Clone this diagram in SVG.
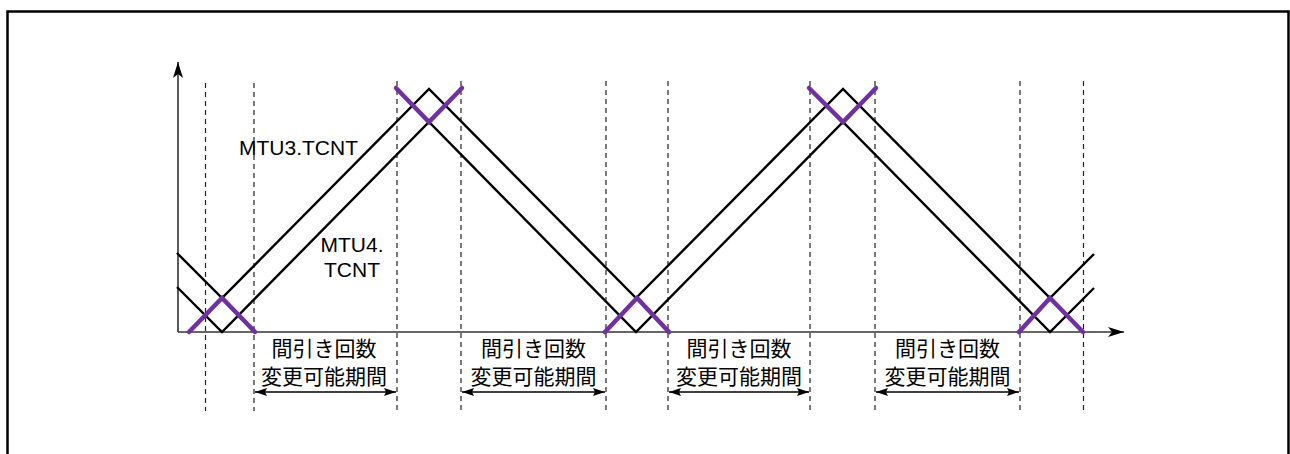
<svg xmlns="http://www.w3.org/2000/svg" width="1290" height="454" viewBox="0 0 1290 454">
<defs>
<style>
.frame{fill:none;stroke:#000;stroke-width:2.5}
.axis{fill:none;stroke:#333;stroke-width:1.6}
.dash{fill:none;stroke:#222;stroke-width:1.2;stroke-dasharray:5 4}
.wave{fill:none;stroke:#000;stroke-width:2.4;stroke-linejoin:miter}
.purple{fill:none;stroke:#7030a0;stroke-width:4.5;stroke-linecap:round;stroke-linejoin:miter}
.dim{fill:none;stroke:#000;stroke-width:1.4}
.lat{font-family:"Liberation Sans",Arial,sans-serif;font-size:21px;fill:#000}
.jp{font-family:"Noto Sans CJK JP","Noto Sans CJK SC",sans-serif;font-size:21px;fill:#000;text-anchor:middle}
</style>
<marker id="axhead" viewBox="0 0 16 10" refX="16" refY="5" markerWidth="16" markerHeight="10" markerUnits="userSpaceOnUse" orient="auto">
<path d="M0,0 L16,5 L0,10 L4,5 Z" fill="#000"/>
</marker>
<marker id="dimhead" viewBox="0 0 12 8" refX="12" refY="4" markerWidth="12" markerHeight="8" markerUnits="userSpaceOnUse" orient="auto-start-reverse">
<path d="M0,0 L12,4 L0,8 L2,4 Z" fill="#000"/>
</marker>
</defs>
<rect width="1290" height="454" fill="#fff"/>
<path class="frame" d="M7.5,454 V11.5 H1288.5 V454"/>
<g id="connectors">
<g id="axes">
<line class="axis" x1="178" y1="332" x2="178" y2="62" marker-end="url(#axhead)"/>
<line class="axis" x1="178" y1="332" x2="1124" y2="332" marker-end="url(#axhead)"/>
</g>
<g id="dashed">
<line class="dash" x1="205.5" y1="83" x2="205.5" y2="411"/>
<line class="dash" x1="254" y1="83" x2="254" y2="411"/>
<line class="dash" x1="397" y1="81" x2="397" y2="411"/>
<line class="dash" x1="461" y1="81" x2="461" y2="411"/>
<line class="dash" x1="606" y1="81" x2="606" y2="411"/>
<line class="dash" x1="668" y1="81" x2="668" y2="411"/>
<line class="dash" x1="810" y1="81" x2="810" y2="411"/>
<line class="dash" x1="875" y1="81" x2="875" y2="411"/>
<line class="dash" x1="1020" y1="81" x2="1020" y2="411"/>
<line class="dash" x1="1083.5" y1="81" x2="1083.5" y2="411"/>
</g>
<g id="dims">
<line class="dim" x1="255" y1="392" x2="396" y2="392" marker-start="url(#dimhead)" marker-end="url(#dimhead)"/>
<line class="dim" x1="462" y1="392" x2="605" y2="392" marker-start="url(#dimhead)" marker-end="url(#dimhead)"/>
<line class="dim" x1="669" y1="392" x2="809" y2="392" marker-start="url(#dimhead)" marker-end="url(#dimhead)"/>
<line class="dim" x1="876" y1="392" x2="1019" y2="392" marker-start="url(#dimhead)" marker-end="url(#dimhead)"/>
</g>
</g>
<g id="mtu3">
<polyline class="wave" points="177,253 222,298 429,89 636,298 843,89 1050,298 1094,254"/>
<text class="lat" x="239" y="155">MTU3.TCNT</text>
</g>
<g id="mtu4">
<polyline class="wave" points="177,287 222,332 429,122 636,332 843,122 1050,332 1094,288"/>
<text class="lat" x="352" y="252" text-anchor="middle">MTU4.</text>
<text class="lat" x="352" y="277" text-anchor="middle">TCNT</text>
</g>
<g id="purple-marks">
<polyline class="purple" points="189,332 222,298 255,332"/>
<polyline class="purple" points="396,88 429,122 462,88"/>
<polyline class="purple" points="605,332 637,298 669,332"/>
<polyline class="purple" points="809,88 843,122 876,88"/>
<polyline class="purple" points="1019,332 1050,298 1083,332"/>
</g>
<g id="label1">
<text class="jp" x="324" y="356">間引き回数</text>
<text class="jp" x="324" y="384">変更可能期間</text>
</g>
<g id="label2">
<text class="jp" x="533.5" y="356">間引き回数</text>
<text class="jp" x="533.5" y="384">変更可能期間</text>
</g>
<g id="label3">
<text class="jp" x="739" y="356">間引き回数</text>
<text class="jp" x="739" y="384">変更可能期間</text>
</g>
<g id="label4">
<text class="jp" x="947.5" y="356">間引き回数</text>
<text class="jp" x="947.5" y="384">変更可能期間</text>
</g>
</svg>
